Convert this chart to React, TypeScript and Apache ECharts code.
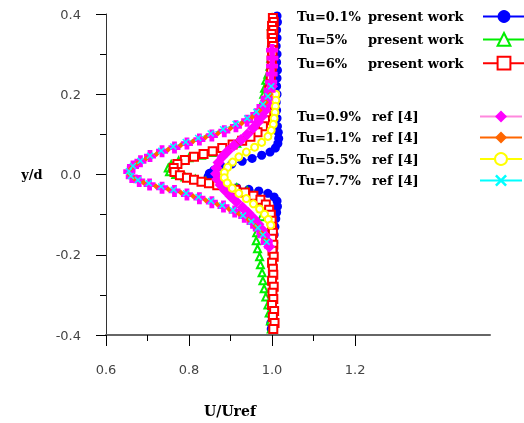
import React, { useEffect, useRef } from "react";
import * as echarts from "echarts";

// ---- data: [U/Uref, y/d] ----
const tu01Present: number[][] = [
  [1.012, 0.395], [1.013, 0.38], [1.011, 0.36], [1.012, 0.34], [1.01, 0.32], [1.012, 0.3], [1.011, 0.28],
  [1.013, 0.26], [1.012, 0.24], [1.011, 0.22], [1.012, 0.2], [1.01, 0.18], [1.011, 0.16], [1.012, 0.14],
  [1.013, 0.12], [1.015, 0.105], [1.016, 0.09], [1.014, 0.077], [1.008, 0.066], [0.995, 0.056], [0.975, 0.048],
  [0.952, 0.04], [0.928, 0.033], [0.903, 0.026], [0.879, 0.019], [0.86, 0.011], [0.849, 0.003], [0.846, -0.005],
  [0.852, -0.013], [0.866, -0.021], [0.888, -0.028], [0.915, -0.033], [0.944, -0.037], [0.968, -0.041],
  [0.99, -0.047], [1.005, -0.056], [1.012, -0.066], [1.013, -0.08], [1.011, -0.095], [1.009, -0.11],
  [1.007, -0.13], [1.005, -0.15], [1.004, -0.17], [1.003, -0.19], [1.002, -0.21], [1.002, -0.23],
  [1.001, -0.25], [1.0, -0.27], [1.0, -0.29], [0.999, -0.31], [0.998, -0.33], [0.998, -0.35], [0.997, -0.37],
  [0.998, -0.385],
];
const tu5Present: number[][] = [
  [1.0, 0.39], [0.998, 0.37], [1.001, 0.35], [0.999, 0.33], [1.0, 0.31], [0.997, 0.29], [0.995, 0.27],
  [0.99, 0.25], [0.985, 0.235], [0.982, 0.215], [0.98, 0.2], [0.977, 0.18], [0.973, 0.16], [0.969, 0.14],
  [0.965, 0.125], [0.955, 0.11], [0.94, 0.095], [0.915, 0.078], [0.888, 0.064], [0.86, 0.055], [0.83, 0.048],
  [0.8, 0.042], [0.775, 0.034], [0.757, 0.025], [0.75, 0.016], [0.753, 0.007], [0.768, 0.0], [0.79, -0.006],
  [0.815, -0.012], [0.84, -0.017], [0.865, -0.022], [0.89, -0.027], [0.915, -0.033], [0.94, -0.041],
  [0.958, -0.052], [0.97, -0.066], [0.975, -0.085], [0.975, -0.105], [0.97, -0.125], [0.963, -0.145],
  [0.962, -0.165], [0.965, -0.185], [0.97, -0.205], [0.972, -0.225], [0.976, -0.245], [0.978, -0.265],
  [0.981, -0.285], [0.985, -0.305], [0.99, -0.325], [0.993, -0.345], [0.996, -0.365], [0.998, -0.385],
];
const tu6Present: number[][] = [
  [1.002, 0.39], [1.004, 0.38], [1.0, 0.37], [1.003, 0.36], [0.999, 0.35], [1.002, 0.34], [1.0, 0.33],
  [1.003, 0.32], [1.0, 0.31], [1.001, 0.3], [0.999, 0.285], [1.0, 0.27], [0.998, 0.255], [0.997, 0.24],
  [0.996, 0.225], [0.993, 0.21], [0.992, 0.195], [0.99, 0.18], [0.988, 0.165], [0.986, 0.15], [0.983, 0.135],
  [0.978, 0.12], [0.965, 0.105], [0.948, 0.094], [0.928, 0.084], [0.905, 0.075], [0.88, 0.066], [0.857, 0.058],
  [0.835, 0.051], [0.812, 0.044], [0.79, 0.036], [0.772, 0.026], [0.763, 0.016], [0.765, 0.006],
  [0.778, -0.002], [0.795, -0.008], [0.812, -0.013], [0.83, -0.018], [0.848, -0.022], [0.868, -0.027],
  [0.89, -0.032], [0.912, -0.038], [0.935, -0.045], [0.955, -0.053], [0.972, -0.063], [0.985, -0.075],
  [0.993, -0.088], [0.997, -0.1], [0.999, -0.115], [1.0, -0.13], [1.002, -0.145], [1.0, -0.16],
  [1.003, -0.175], [1.001, -0.19], [1.004, -0.205], [1.0, -0.22], [1.002, -0.235], [1.003, -0.25],
  [1.0, -0.265], [1.004, -0.28], [1.001, -0.295], [1.003, -0.31], [1.0, -0.325], [1.005, -0.34],
  [1.002, -0.355], [1.006, -0.37], [1.003, -0.385],
];
const tu09Ref: number[][] = [
  [1.0, 0.22], [0.998, 0.205], [0.995, 0.19], [0.99, 0.175], [0.984, 0.16], [0.976, 0.145], [0.966, 0.13],
  [0.954, 0.115], [0.94, 0.1], [0.925, 0.086], [0.908, 0.072], [0.893, 0.058], [0.88, 0.044], [0.871, 0.03],
  [0.866, 0.016], [0.865, 0.002], [0.868, -0.012], [0.876, -0.026], [0.887, -0.04], [0.9, -0.054],
  [0.914, -0.068], [0.929, -0.082], [0.943, -0.096], [0.956, -0.11], [0.967, -0.124], [0.976, -0.138],
  [0.983, -0.152], [0.989, -0.166], [0.993, -0.18],
];
const tu55Ref: number[][] = [
  [1.009, 0.2], [1.009, 0.185], [1.008, 0.17], [1.007, 0.155], [1.005, 0.14], [1.003, 0.125], [0.998, 0.11],
  [0.99, 0.095], [0.975, 0.08], [0.958, 0.068], [0.938, 0.056], [0.92, 0.044], [0.905, 0.031], [0.893, 0.018],
  [0.885, 0.005], [0.885, -0.008], [0.892, -0.021], [0.904, -0.034], [0.92, -0.047], [0.938, -0.06],
  [0.955, -0.073], [0.97, -0.086], [0.982, -0.099], [0.991, -0.112], [0.997, -0.126],
];
const wakePlus: number[][] = [
  [1.0, 0.31], [1.001, 0.29], [1.0, 0.27], [0.999, 0.25], [0.998, 0.23], [0.994, 0.21], [0.987, 0.19],
  [0.977, 0.17], [0.962, 0.15], [0.94, 0.134], [0.913, 0.12], [0.885, 0.108], [0.855, 0.097], [0.825, 0.087],
  [0.795, 0.077], [0.765, 0.067], [0.735, 0.058], [0.706, 0.046], [0.683, 0.033], [0.665, 0.02],
  [0.656, 0.007], [0.662, -0.006], [0.68, -0.016], [0.705, -0.025], [0.735, -0.033], [0.765, -0.041],
  [0.795, -0.05], [0.825, -0.059], [0.855, -0.069], [0.883, -0.08], [0.91, -0.092], [0.933, -0.105],
  [0.953, -0.12], [0.968, -0.136], [0.979, -0.153], [0.987, -0.17],
];
const tu11Ref: number[][] = [
  [0.996, 0.2], [0.985, 0.18], [0.97, 0.16], [0.952, 0.143], [0.927, 0.128], [0.9, 0.115], [0.87, 0.103],
  [0.84, 0.093], [0.81, 0.083], [0.78, 0.073], [0.75, 0.062], [0.722, 0.051], [0.697, 0.04], [0.675, 0.028],
  [0.66, 0.015], [0.655, 0.002], [0.668, -0.01], [0.69, -0.02], [0.72, -0.029], [0.75, -0.037],
  [0.78, -0.045], [0.81, -0.054], [0.84, -0.064], [0.868, -0.074], [0.896, -0.086], [0.92, -0.098],
  [0.943, -0.112], [0.96, -0.128], [0.974, -0.145], [0.984, -0.162],
];
const tu77Ref: number[][] = [
  [0.998, 0.22], [0.99, 0.195], [0.978, 0.175], [0.962, 0.156], [0.94, 0.14], [0.912, 0.126], [0.882, 0.113],
  [0.852, 0.102], [0.822, 0.091], [0.792, 0.081], [0.762, 0.07], [0.733, 0.059], [0.706, 0.047],
  [0.683, 0.034], [0.665, 0.021], [0.655, 0.008], [0.66, -0.004], [0.677, -0.014], [0.703, -0.022],
  [0.733, -0.03], [0.763, -0.038], [0.793, -0.047], [0.823, -0.056], [0.853, -0.066], [0.88, -0.077],
  [0.906, -0.089], [0.93, -0.102], [0.95, -0.117], [0.966, -0.133], [0.978, -0.15], [0.987, -0.168],
];

const presentLabels: string[][] = [
  ["Tu=0.1%", "present work"],
  ["Tu=5%", "present work"],
  ["Tu=6%", "present work"],
];
const refLabels: string[][] = [
  ["Tu=0.9%", "ref [4]"],
  ["Tu=1.1%", "ref [4]"],
  ["Tu=5.5%", "ref [4]"],
  ["Tu=7.7%", "ref [4]"],
];
const xMajorTicks = [0.6, 0.8, 1.0, 1.2];
const xMinorTicks = [0.7, 0.9, 1.1];

const PLUS = "path://M3,0H7V3H10V7H7V10H3V7H0V3H3Z";
const CROSS = "path://M0,1.5L1.5,0L5,3.5L8.5,0L10,1.5L6.5,5L10,8.5L8.5,10L5,6.5L1.5,10L0,8.5L3.5,5Z";

const nm = (l: string[]) => l[0] + " " + l[1];
const SERIF = "DejaVu Serif";

export default function App() {
  const ref = useRef<HTMLDivElement>(null);
  useEffect(() => {
    const chart = echarts.init(ref.current!, undefined, { renderer: "svg" });
    const mk = (name: string, data: number[][], color: string, symbol: string, size: number, lineColor?: string) => ({
      type: "line",
      name,
      data,
      symbol,
      symbolSize: size,
      showSymbol: true,
      lineStyle: { color: lineColor || color, width: 1 },
      itemStyle: { color, borderWidth: symbol.startsWith("empty") ? 1.5 : 0 },
      emphasis: { disabled: true },
      xAxisIndex: 0,
    });
    const tok = (w: number, lh: number) => ({
      width: w,
      align: "left",
      fontFamily: SERIF,
      fontWeight: "bold",
      fontSize: 13,
      color: "#000",
      lineHeight: lh,
    });
    const richLegend = (wa: number, wb: number, lh: number) => ({
      fontFamily: SERIF,
      fontWeight: "bold",
      fontSize: 13,
      color: "#000",
      rich: { a: tok(wa, lh), b: tok(wb, lh) },
    });
    const fmt = (labels: string[][]) => (name: string) => {
      const l = labels.find((x) => nm(x) === name)!;
      return `{a|${l[0]}}{b|${l[1]}}`;
    };
    chart.setOption({
      animation: false,
      grid: { left: 106, top: 14, right: 34, bottom: 87 },
      legend: [
        {
          orient: "vertical",
          left: 297,
          top: 10,
          padding: 0,
          align: "right",
          itemWidth: 42,
          itemHeight: 16,
          itemGap: 9,
          selectedMode: false,
          data: presentLabels.map(nm),
          formatter: fmt(presentLabels),
          textStyle: richLegend(71, 110, 16),
        },
        {
          orient: "vertical",
          left: 297,
          top: 110,
          padding: 0,
          align: "right",
          itemWidth: 42,
          itemHeight: 15,
          itemGap: 8,
          selectedMode: false,
          data: refLabels.map(nm),
          formatter: fmt(refLabels),
          textStyle: richLegend(75, 103, 15),
        },
      ],
      xAxis: [
        {
          type: "value",
          min: 0.6,
          max: 1.525,
          position: "bottom",
          name: "U/Uref",
          nameLocation: "middle",
          nameGap: 76,
          nameTextStyle: {
            fontFamily: SERIF,
            fontWeight: "bold",
            fontSize: 14,
            color: "#000",
            align: "center",
            verticalAlign: "middle",
            padding: [0, 136, 0, 0],
          },
          axisLine: { show: true, onZero: false, lineStyle: { color: "#666", width: 2 } },
          axisTick: { show: true, length: 11, customValues: xMajorTicks, lineStyle: { color: "#000", width: 1 } },
          axisLabel: {
            customValues: xMajorTicks,
            margin: 28,
            fontFamily: "DejaVu Sans",
            fontSize: 13,
            color: "#444",
            formatter: (v: number) => v.toFixed(1),
          },
          splitLine: { show: false },
        },
        {
          type: "value",
          min: 0.6,
          max: 1.525,
          position: "bottom",
          offset: 0,
          axisLine: { show: false, onZero: false },
          axisTick: { show: true, length: 6, customValues: xMinorTicks, lineStyle: { color: "#000", width: 1 } },
          axisLabel: { show: false },
          splitLine: { show: false },
        },
      ],
      yAxis: {
        type: "value",
        min: -0.4,
        max: 0.4,
        interval: 0.2,
        name: "y/d",
        nameLocation: "middle",
        nameGap: 74,
        nameRotate: 0,
        nameTextStyle: {
          fontFamily: SERIF,
          fontWeight: "bold",
          fontSize: 13,
          color: "#000",
          align: "center",
          verticalAlign: "middle",
        },
        axisLine: { show: true, onZero: false, lineStyle: { color: "#333", width: 1 } },
        axisTick: { show: true, length: 10, lineStyle: { color: "#000" } },
        minorTick: { show: true, splitNumber: 2, length: 6, lineStyle: { color: "#000" } },
        axisLabel: {
          margin: 25,
          fontFamily: "DejaVu Sans",
          fontSize: 13,
          color: "#444",
          formatter: (v: number) => v.toFixed(1),
        },
        splitLine: { show: false },
      },
      series: [
        mk(nm(presentLabels[0]), tu01Present, "#0000ff", "circle", 9),
        mk(nm(presentLabels[1]), tu5Present, "#00ee00", "emptyTriangle", 7),
        mk(nm(presentLabels[2]), tu6Present, "#ff0000", "emptyRect", 8),
        mk(nm(refLabels[0]), tu09Ref, "#ff00ff", "diamond", 12, "#ff88dd"),
        mk(nm(refLabels[2]), tu55Ref, "#ffff00", "emptyCircle", 7),
        mk("wake", wakePlus, "#ff00ff", PLUS, 12, "#ff66ff"),
        mk(nm(refLabels[1]), tu11Ref, "#ff6600", "diamond", 6),
        mk(nm(refLabels[3]), tu77Ref, "#00ffff", CROSS, 7),
      ],
    });
    return () => chart.dispose();
  }, []);
  return <div ref={ref} style={{ position: "fixed", left: 0, top: 0, width: 524, height: 423 }} />;
}
